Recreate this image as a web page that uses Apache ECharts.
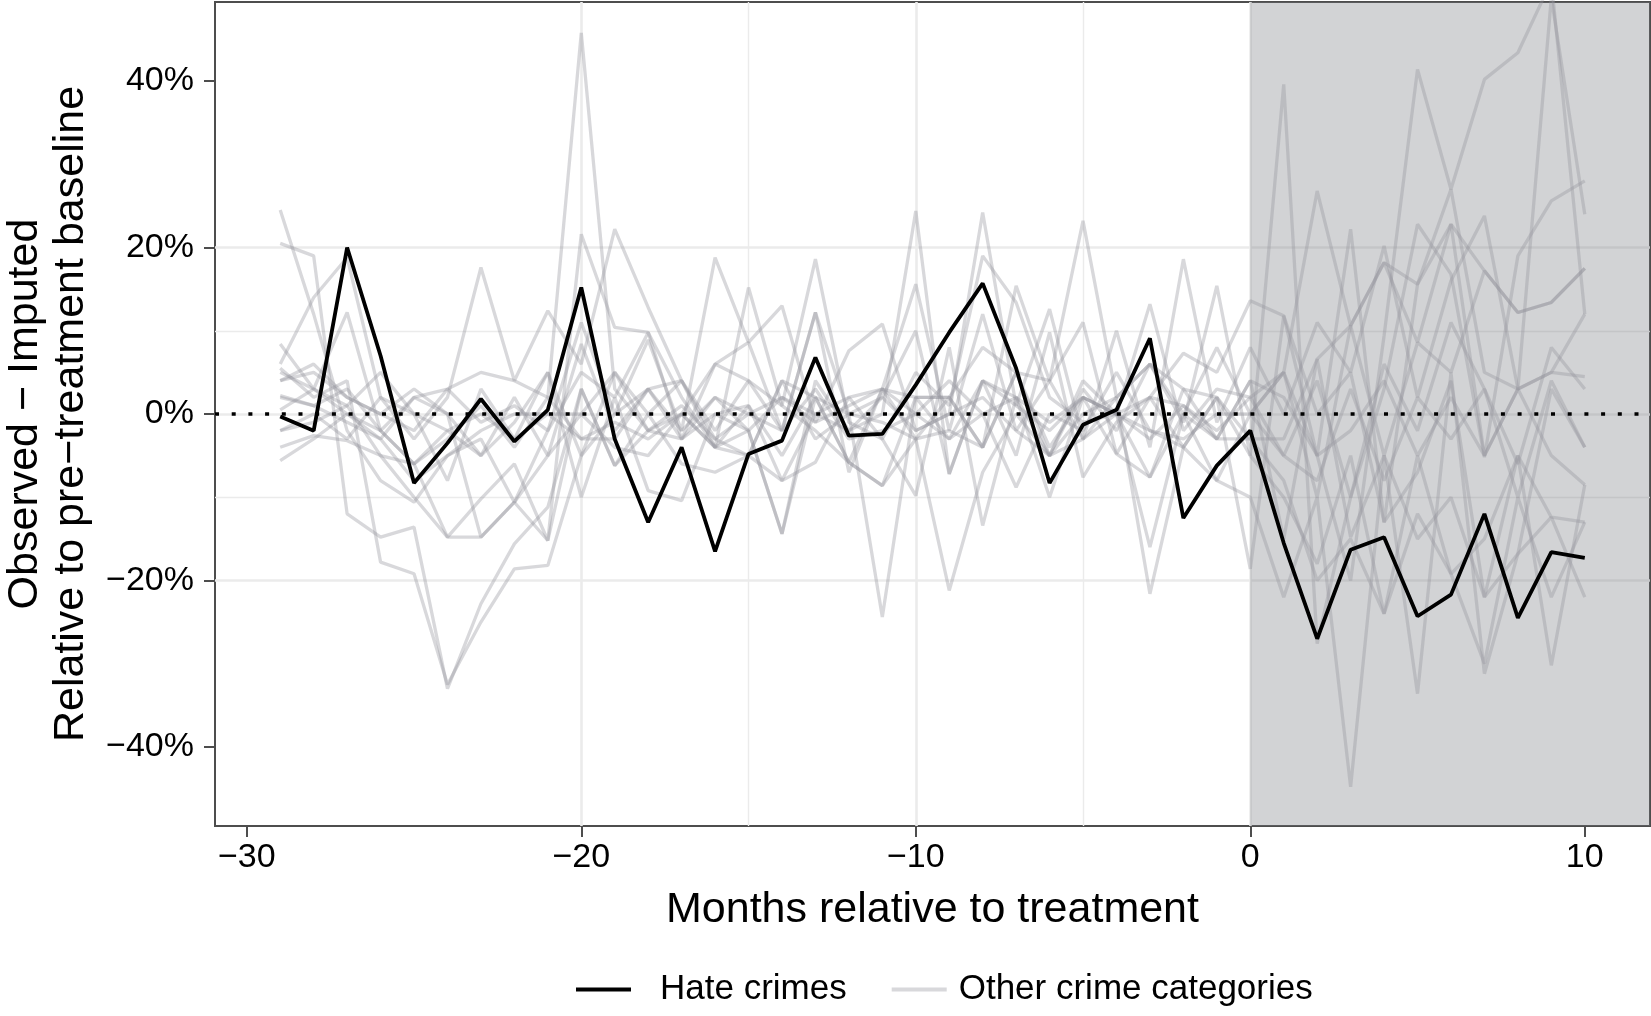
<!DOCTYPE html>
<html>
<head>
<meta charset="utf-8">
<script src="https://cdn.jsdelivr.net/npm/echarts@6/dist/echarts.min.js"></script>
<style>
html,body{margin:0;padding:0;background:#fff;}
#chart{width:1651px;height:1016px;}
</style>
</head>
<body>
<div id="chart"></div>
<script>
// ---- data ----
const months = [-29,-28,-27,-26,-25,-24,-23,-22,-21,-20,-19,-18,-17,-16,-15,-14,-13,-12,-11,-10,-9,-8,-7,-6,-5,-4,-3,-2,-1,0,1,2,3,4,5,6,7,8,9,10];

const hateCrimes = [-0.3,-2,20,7,-8.3,-3.5,1.8,-3.3,0.5,15.2, -3,-13,-4,-16.5,-4.8,-3.2,6.8,-2.6,-2.4,3.5, 9.8,15.7,5.5,-8.3,-1.3,0.5,9.1,-12.5,-6.2,-2, -15.5,-27,-16.3,-14.8,-24.3,-21.7,-12,-24.5,-16.6,-17.3];

const other01 = [2,1,3,-2,-6,-3,1,-4,2,45.8, 3,-2,1,-3,0,2,-1,1,3,0, -3,4,1,-2,2,0,-3,1,-2,2, -5,4,-10,6,-2,11,3,-6,8,3];
const other02 = [24.5,12,-2,-8,-10.6,-5,-3,-10.6,-5,8.4, -2,3,-3,2,-2,-14.4,4,-2,0,24.4, -7.2,4,2,-5,3,-2,6,-1,15.4,-5, 39.6,-27.6,-10,3,22.8,16.8,-5.2,19,25.6,28];
const other03 = [20.5,19,-12,-14.8,-13.6,-33,-22.8,-15.6,-11.2,3, -6.2,-2,0,-4,1,-5,2,-5.8,-8.6,-3, 2,8,5,-5,-3,0,-7.6,0,-3,4, -15,6.6,-14.8,-5,-15,-10,-22,-5,-12.4,-13];
const other04 = [6,14,18.8,2,-3,2,17.6,4,12.4,6, 22.2,12.8,4,-2,4,1,18.6,-1,-3,5, 1,19,13.4,2,-1,0,13.2,-2,3,2, 5,26.8,10.6,18.2,8.6,22.8,17.2,12.2,13.4,17.5];
const other05 = [8.4,3,12.2,-2,-6,-14.8,-10.2,-6,-15.2,21.6, 10.4,9.8,-3,6,8.6,-2,12.2,-7,3,15.6, -2,12,-2,4,11,-4.8,2,7.3,5,13.6, 11.8,-5,22.2,-13,15.6,27,5,3,5,4.5];
const other06 = [5.5,2,4,-17.8,-19.2,-32.5,-25,-18.6,-18.2,-5, 5,0,-6,-7,-5,4,-3,0,-24.4,2, -3,0,-8.8,0,-2,5,-2,-4,2,-5, -10,-18,-5,-24,-5,-19.2,-15,-5,-30.2,-8.5];
const other07 = [-2,-1,1,5,0,-8,3,-3,5,-10, 2,-9.2,-10.4,0,1,-8,-5.8,2,-3,-9.8, 8,-13.4,2,-10,2,0,-16,0,-8,-10, -22,-10,-44.8,-5,-33.6,5,-31.2,-16.8,-12.4,-22];
const other08 = [4,5,2,0,3,0,-14.8,-10.6,-2,11, 0,8.9,-2,18.8,8.6,13,-1,7.6,10.8,-2, 0,24.2,1,12.6,-3,10,-4,18.6,-1,8, 0,11,5,20.2,2,16,23.8,3,5,12];
const other09 = [-4,-2.6,-3.2,-5,-6,-2,-5,2,-5,0, -4,-5,0,-4,15.2,1,-2,-5.8,3,-3, -2,-4,15.4,4,23.2,2,6,0,8,0, 5,-5,-20,9.4,41.4,27,40.2,43.4,52,12];
const other10 = [-5.6,-3,0,-3,2,3,5,4,2,-3, -3,3,4,-3,-5,4,2,0,2,10, -7.2,4,-5,9.8,-7.6,-1,2,-4,-8,0, 5,-10,10.6,18.2,15.6,22.8,-5,3,50,24];
const other11 = [2.2,1,-1,-3,-8,-5,-2,0,0,-3, -1,-3,0,6,4,-2,12.2,0,-1,-3, -21.2,-7,0,-5,0,2,-21.6,-4,2,-18.6, 11.8,0,5,-13,-7,4,-22,-16.8,3,-4];
const other12 = [4,6,2,0,-2,3,-1,1,-2,5, 2,9.8,2,-4,-5,-8,0,2,3,2, 2,-4,5,4,-3,2,6,3,-3,-3, -3,6.6,10.6,-5,8.6,5,17.2,12.2,13.4,17.5];
const other13 = [0.5,3,0,-2,2,0,-5,-1,5,-5, 0,3,-2,2,0,-2,3,-3,-2,0, 4,0,2,-1,2,0,2,1,-3,4, 2,-5,-2,4,-5,2,-5,3,-5,-8.5];
const other14 = [5,3,1,-5,-10,-14.8,-14.8,-10.6,-15.2,3, -6.2,0,4,-4,-2,-14.4,2,-5.8,-8.6,2, 2,-4,5,-4,2,-4.8,-7.6,3,2,-3, -8,-20,-15,-24,-12,-19.2,-30,-10,-22,-13];
const other15 = [-2,0,-3,2,0,-2,0,-3,0,0, 5,-2,-3,0,-2,2,0,-2,2,-2, 0,2,-2,-5,4,0,-2,-3,0,0, -5,-8,3,-8,2,-3,3,-10,4,-4];

const otherCrimes = [other01,other02,other03,other04,other05,other06,other07,other08,other09,other10,other11,other12,other13,other14,other15];

const xMajorTicks = [-30,-20,-10,0,10];
const xMinorTicks = [-25,-15,-5,5];
const yMajorTicks = [-40,-20,0,20,40];
const yMinorTicks = [-30,-10,10,30];
const xRange = [-30.95, 11.95];
const yRange = [-49.5, 49.5];
const treatmentStart = 0;

// ---- chart ----
const FONT = "'Liberation Sans', Helvetica, Arial, sans-serif";
const GREY = 'rgba(150,150,156,0.37)';
const fmtMinus = v => (v < 0 ? '\u2212' + (-v) : '' + v);
const pairs = arr => months.map((m, i) => [m, arr[i]]);

const series = [];
series.push({
  type: 'line', data: [], z: 1, silent: true,
  markArea: {
    silent: true,
    itemStyle: { color: 'rgba(118,121,128,0.33)' },
    data: [[{ xAxis: treatmentStart }, { xAxis: xRange[1] }]]
  }
});
series.push({
  type: 'line', data: [], z: 2, silent: true,
  markLine: {
    silent: true, symbol: ['none', 'none'], label: { show: false },
    lineStyle: { color: '#000', width: 3.5, type: [4, 12.7], cap: 'butt' },
    emphasis: { disabled: true },
    data: [{ yAxis: 0 }]
  }
});
otherCrimes.forEach(arr => {
  series.push({
    name: 'Other crime categories', type: 'line', data: pairs(arr),
    showSymbol: false, symbol: 'none', z: 3, silent: true,
    lineStyle: { color: GREY, width: 3.3 },
    itemStyle: { color: GREY },
    emphasis: { disabled: true }
  });
});
series.push({
  name: 'Hate crimes', type: 'line', data: pairs(hateCrimes),
  showSymbol: false, symbol: 'none', z: 5, silent: true,
  lineStyle: { color: '#000', width: 3.8 },
  itemStyle: { color: '#000' },
  emphasis: { disabled: true }
});

const chart = echarts.init(document.getElementById('chart'), null, { renderer: 'canvas' });
chart.setOption({
  animation: false,
  backgroundColor: '#fff',
  textStyle: { fontFamily: FONT },
  grid: {
    left: 215, right: 1, top: 2, bottom: 190,
    outerBoundsMode: 'none', containLabel: false,
    show: true, borderColor: '#4d4d4d', borderWidth: 2, backgroundColor: '#fff'
  },
  legend: {
    left: 571, top: 967,
    itemWidth: 55, itemHeight: 3.8, itemGap: 45,
    icon: 'rect',
    data: [
      { name: 'Hate crimes', icon: 'rect', textStyle: { padding: [0, 0, 0, 24] } },
      { name: 'Other crime categories', icon: 'rect', textStyle: { padding: [0, 0, 0, 7] } }
    ],
    textStyle: { fontSize: 35, color: '#000', fontFamily: FONT },
    selectedMode: false
  },
  xAxis: [{
    type: 'value', min: xRange[0], max: xRange[1],
    name: 'Months relative to treatment', nameLocation: 'middle', nameGap: 63,
    nameTextStyle: { fontSize: 43, color: '#000', fontFamily: FONT },
    axisLine: { show: false, onZero: false },
    axisTick: { show: true, customValues: xMajorTicks, length: 11, lineStyle: { color: '#4d4d4d', width: 2 } },
    axisLabel: { customValues: xMajorTicks, formatter: fmtMinus, fontSize: 34, color: '#000', margin: 15, fontFamily: FONT },
    splitLine: { show: true, showMinLine: false, showMaxLine: false, lineStyle: { color: '#ebebeb', width: 2.6 } }
  }, {
    type: 'value', min: xRange[0], max: xRange[1], position: 'bottom',
    axisLine: { show: false, onZero: false },
    axisTick: { show: false, customValues: xMinorTicks },
    axisLabel: { show: false, customValues: xMinorTicks },
    splitLine: { show: true, showMinLine: false, showMaxLine: false, lineStyle: { color: '#ebebeb', width: 1.4 } }
  }],
  yAxis: [{
    type: 'value', min: yRange[0], max: yRange[1],
    name: 'Observed \u2212 Imputed\nRelative to pre\u2212treatment baseline',
    nameLocation: 'middle', nameGap: 121, nameRotate: 90,
    nameTextStyle: { fontSize: 43, lineHeight: 46, color: '#000', fontFamily: FONT },
    axisLine: { show: false, onZero: false },
    axisTick: { show: true, customValues: yMajorTicks, length: 11, lineStyle: { color: '#4d4d4d', width: 2 } },
    axisLabel: { customValues: yMajorTicks, formatter: v => fmtMinus(v) + '%', fontSize: 34, color: '#000', margin: 21, fontFamily: FONT },
    splitLine: { show: true, showMinLine: false, showMaxLine: false, lineStyle: { color: '#ebebeb', width: 2.6 } }
  }, {
    type: 'value', min: yRange[0], max: yRange[1], position: 'left',
    axisLine: { show: false, onZero: false },
    axisTick: { show: false, customValues: yMinorTicks },
    axisLabel: { show: false, customValues: yMinorTicks },
    splitLine: { show: true, showMinLine: false, showMaxLine: false, lineStyle: { color: '#ebebeb', width: 1.4 } }
  }],
  series: series
});
</script>
</body>
</html>
